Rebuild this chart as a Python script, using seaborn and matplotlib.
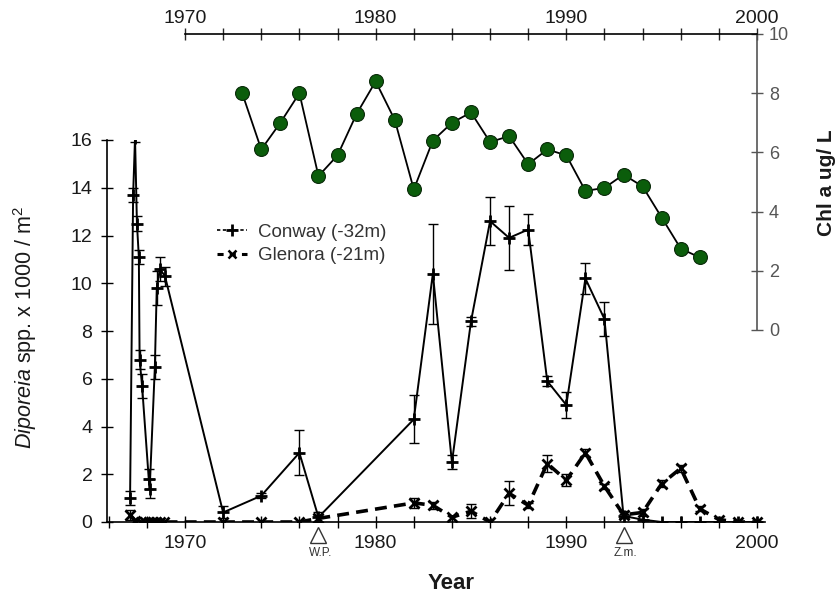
import matplotlib
matplotlib.use("Agg")
import matplotlib.pyplot as plt
import matplotlib.ticker as mticker
from matplotlib.lines import Line2D
import pandas as pd
import seaborn as sns

# Diporeia density (thousands per m^2), Conway station (-32 m)
conway_year = [1967.12, 1967.28, 1967.38, 1967.48, 1967.58, 1967.62, 1967.75,
               1968.10, 1968.15, 1968.42, 1968.52, 1968.68, 1968.95,
               1972, 1974, 1976, 1977, 1982, 1983, 1984, 1985, 1986, 1987,
               1988, 1989, 1990, 1991, 1992, 1993, 1994, 1995, 1996, 1997,
               1998, 1999, 2000]
conway_density = [1.0, 13.7, 16.1, 12.5, 11.1, 6.8, 5.7,
                  1.8, 1.4, 6.5, 9.8, 10.6, 10.3,
                  0.4, 1.1, 2.9, 0.2, 4.3, 10.4, 2.5, 8.4, 12.6, 11.9,
                  12.25, 5.9, 4.9, 10.2, 8.5, 0.25, 0.1, 0.0, 0.0, 0.0,
                  0.0, 0.0, 0.0]
conway_err = [0.3, 0.3, 0.2, 0.3, 0.3, 0.4, 0.5,
              0.4, 0.4, 0.5, 0.7, 0.5, 0.4,
              0.25, 0.1, 0.95, 0.2, 1.0, 2.1, 0.3, 0.2, 1.0, 1.35,
              0.65, 0.2, 0.55, 0.65, 0.7, 0.1, 0.0, 0.0, 0.0, 0.0,
              0.0, 0.0, 0.0]

# Diporeia density (thousands per m^2), Glenora station (-21 m)
glenora_year = [1967.12, 1967.4, 1967.7, 1967.9, 1968.1, 1968.3, 1968.5,
                1968.7, 1968.9, 1972, 1974, 1976, 1977, 1982, 1983, 1984,
                1985, 1986, 1987, 1988, 1989, 1990, 1991, 1992, 1993, 1994,
                1995, 1996, 1997, 1998, 1999, 2000]
glenora_density = [0.3, 0.05, 0.0, 0.0, 0.0, 0.0, 0.0,
                   0.0, 0.0, 0.0, 0.0, 0.0, 0.15, 0.8, 0.7, 0.2,
                   0.45, 0.0, 1.2, 0.7, 2.45, 1.75, 2.9, 1.5, 0.3, 0.4,
                   1.6, 2.25, 0.55, 0.1, 0.0, 0.0]
glenora_err = [0.2, 0.0, 0.0, 0.0, 0.0, 0.0, 0.0,
               0.0, 0.0, 0.0, 0.0, 0.0, 0.15, 0.2, 0.15, 0.0,
               0.3, 0.0, 0.5, 0.1, 0.35, 0.25, 0.15, 0.1, 0.15, 0.15,
               0.15, 0.15, 0.1, 0.0, 0.0, 0.0]

# Chlorophyll a (ug/L)
chl_year = list(range(1973, 1998))
chl_value = [8.0, 6.1, 7.0, 8.0, 5.2, 5.9, 7.3, 8.4, 7.1, 4.75, 6.4, 7.0,
             7.35, 6.35, 6.55, 5.6, 6.1, 5.9, 4.7, 4.8, 5.25, 4.85, 3.8,
             2.75, 2.45]

decade_ticks = [1970, 1980, 1990, 2000]
density_ticks = [0, 2, 4, 6, 8, 10, 12, 14, 16]
chl_ticks = [0, 2, 4, 6, 8, 10]
event_years = [1977, 1993]
event_labels = ["W.P.", "Z.m."]

conway = pd.DataFrame({"year": conway_year, "density": conway_density,
                       "err": conway_err})
glenora = pd.DataFrame({"year": glenora_year, "density": glenora_density,
                        "err": glenora_err})
chl = pd.DataFrame({"year": chl_year, "chl": chl_value})

sns.set_theme(style="white")
plt.rcParams["font.family"] = ["Liberation Sans", "DejaVu Sans"]
plt.rcParams["mathtext.fontset"] = "custom"
plt.rcParams["mathtext.rm"] = "Liberation Sans"
plt.rcParams["mathtext.it"] = "Liberation Sans:italic"

W, H = 836, 599
fig = plt.figure(figsize=(W / 100, H / 100), dpi=100)
fig.patch.set_facecolor("white")


def box(left, top, right, bottom):
    return [left / W, 1 - bottom / H, (right - left) / W, (bottom - top) / H]


# ---- main panel: Diporeia density ----
ax = fig.add_axes(box(107, 140, 765, 522))
ax.set_facecolor("none")

sns.lineplot(data=conway, x="year", y="density", ax=ax, estimator=None,
             sort=False, color="black", linewidth=1.4, marker="+",
             markersize=9, markeredgewidth=2, markeredgecolor="black",
             zorder=4)
sns.lineplot(data=glenora, x="year", y="density", ax=ax, estimator=None,
             sort=False, color="black", linewidth=2.6,
             linestyle=(0, (3.3, 2.0)), marker="x", markersize=7,
             markeredgewidth=2, markeredgecolor="black", zorder=3)

for df in (conway, glenora):
    e = df[df["err"] > 0]
    ax.errorbar(e["year"], e["density"], yerr=e["err"], fmt="none",
                ecolor="black", elinewidth=1.0, capsize=3.5, capthick=1.0,
                zorder=2)

ax.set_xlim(1965.91, 2000.42)
ax.set_ylim(0, 16)
ax.set_xticks(decade_ticks)
ax.xaxis.set_minor_locator(mticker.MultipleLocator(2))
ax.set_yticks(density_ticks)
for s in ("top", "right"):
    ax.spines[s].set_visible(False)
for s in ("left", "bottom"):
    ax.spines[s].set_color("black")
    ax.spines[s].set_linewidth(1.2)
ax.tick_params(axis="both", which="both", direction="inout", length=9,
               width=1.0, color="black", labelsize=14, labelcolor="#1a1a1a")
ax.tick_params(axis="x", which="both", bottom=True, pad=5)
ax.tick_params(axis="y", which="both", left=True, pad=6)

ax.set_xlabel("Year", fontsize=16, fontweight="bold", color="#1a1a1a")
ax.set_ylabel(r"$\it{Diporeia}$ spp. x 1000 / m$^2$", fontsize=15.5,
              color="#1a1a1a")
ax.xaxis.set_label_coords(0.523, -0.1335)
ax.yaxis.set_label_coords(-0.104, 0.51)

# management events below the axis
tr = ax.get_xaxis_transform()
for yr, lab in zip(event_years, event_labels):
    ax.plot([yr], [-0.035], marker="^", markersize=12, markerfacecolor="white",
            markeredgecolor="#333333", markeredgewidth=1.0, transform=tr,
            clip_on=False)
    ax.text(yr + 0.1, -0.08, lab, transform=tr, ha="center", va="center",
            fontsize=8.5, color="#333333")

handles = [
    Line2D([], [], color="black", linewidth=1.2, linestyle=(0, (2, 1.5)),
           marker="+", markersize=9, markeredgewidth=2),
    Line2D([], [], color="black", linewidth=2.2, linestyle=(0, (2, 2)),
           marker="x", markersize=6, markeredgewidth=1.8),
]
ax.legend(handles, ["Conway (-32m)", "Glenora (-21m)"], frameon=False,
          loc="center left", bbox_to_anchor=(200 / W, 1 - 244 / H),
          bbox_transform=fig.transFigure, fontsize=13.5, handlelength=1.6,
          handletextpad=0.6, labelspacing=0.35, labelcolor="#333333")

# ---- inset panel: chlorophyll a ----
axc = fig.add_axes(box(185, 34, 757, 330))
axc.set_facecolor("none")
sns.lineplot(data=chl, x="year", y="chl", ax=axc, color="black",
             linewidth=1.3, marker="o", markersize=10,
             markerfacecolor="#0b5d0b", markeredgecolor="#0a2a0a",
             markeredgewidth=0.8)
axc.set_xlim(1970, 2000)
axc.set_ylim(0, 10)
axc.set_xticks(decade_ticks)
axc.xaxis.set_minor_locator(mticker.MultipleLocator(2))
axc.set_yticks(chl_ticks)
axc.xaxis.tick_top()
axc.yaxis.tick_right()
for s in ("left", "bottom"):
    axc.spines[s].set_visible(False)
axc.spines["top"].set_color("black")
axc.spines["top"].set_linewidth(1.2)
axc.spines["right"].set_color("#555555")
axc.spines["right"].set_linewidth(1.2)
axc.tick_params(axis="x", which="both", direction="inout", length=9,
                width=1.0, top=True, bottom=False, labeltop=True,
                labelbottom=False, labelsize=14, pad=0.5, labelcolor="#1a1a1a")
axc.tick_params(axis="y", which="both", direction="inout", length=9,
                width=1.0, right=True, left=False, labelright=True,
                labelleft=False, labelsize=13, pad=4, color="#555555",
                labelcolor="#555555")
axc.set_xlabel("")
axc.set_ylabel("Chl a ug/ L", fontsize=15, fontweight="bold",
               color="#1a1a1a")
axc.yaxis.set_label_position("right")
axc.yaxis.set_label_coords(1.105, 0.497)

fig.savefig("out.png", dpi=100)
